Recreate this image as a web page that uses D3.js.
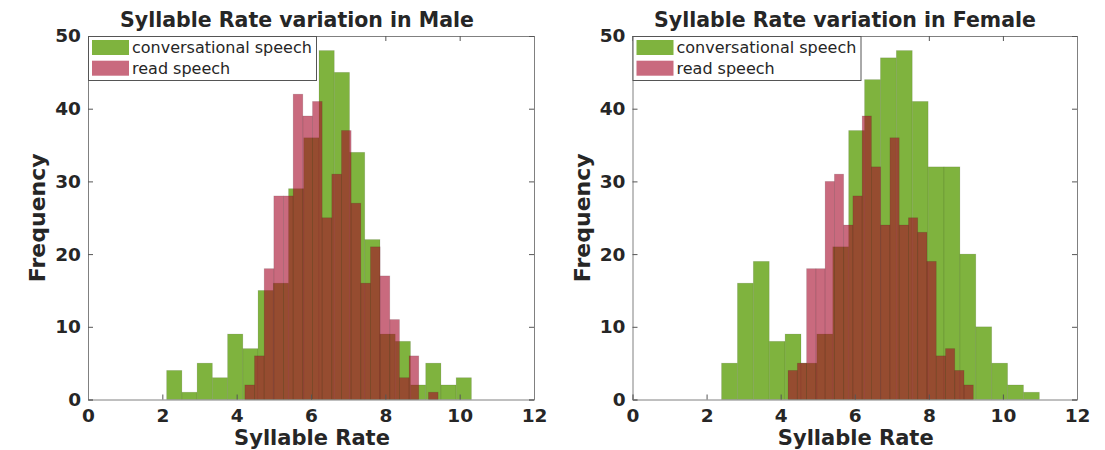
<!DOCTYPE html>
<html>
<head>
<meta charset="utf-8">
<script src="https://cdn.jsdelivr.net/npm/d3@7"></script>
<style>
  body { margin: 0; background: #fff; }
  text { font-family: "DejaVu Sans", sans-serif; fill: #262626; }
</style>
</head>
<body>
<svg id="chart" width="1105" height="450"></svg>
<script>
// Axis ticks and series labels
const xTicks = [0, 2, 4, 6, 8, 10, 12];
const yTicks = [0, 10, 20, 30, 40, 50];
const seriesNames = ["conversational speech", "read speech"];
const panelTitles = ["Syllable Rate variation in Male", "Syllable Rate variation in Female"];

// Histogram bins: first edge, bin width, counts per bin
const maleConvStart = 2.116, maleConvWidth = 0.41;
const maleConvCounts = [4, 1, 5, 3, 9, 7, 15, 16, 29, 36, 48, 45, 34, 22, 9, 8, 2, 5, 2, 3];
const maleReadStart = 4.22, maleReadWidth = 0.26;
const maleReadCounts = [2, 6, 18, 28, 28, 42, 39, 41, 25, 31, 37, 27, 16, 21, 17, 11, 3, 6, 0, 1];

const femaleConvStart = 2.404, femaleConvWidth = 0.429;
const femaleConvCounts = [5, 16, 19, 8, 9, 5, 9, 21, 37, 44, 47, 48, 41, 32, 32, 20, 10, 5, 2, 1];
const femaleReadStart = 4.2, femaleReadWidth = 0.25;
const femaleReadCounts = [4, 5, 18, 18, 30, 31, 24, 28, 39, 32, 24, 36, 24, 25, 23, 19, 6, 7, 4, 2];

const convColor = "#7fb33e";
const readColor = "rgb(165,7,40)";
const readAlpha = 0.6;
const axisColor = "#808080";

function toBins(start, width, counts) {
  return counts.map((c, i) => ({ x0: start + i * width, x1: start + (i + 1) * width, count: c }));
}

const panels = [
  { left: 88, right: 534, titleX: 297, title: panelTitles[0],
    conv: toBins(maleConvStart, maleConvWidth, maleConvCounts),
    read: toBins(maleReadStart, maleReadWidth, maleReadCounts) },
  { left: 632.5, right: 1077, titleX: 845, title: panelTitles[1],
    conv: toBins(femaleConvStart, femaleConvWidth, femaleConvCounts),
    read: toBins(femaleReadStart, femaleReadWidth, femaleReadCounts) }
];

const plotTop = 36, plotBottom = 399.5;
const svg = d3.select("#chart");

panels.forEach(p => {
  const x = d3.scaleLinear().domain([0, 12]).range([p.left, p.right]);
  const y = d3.scaleLinear().domain([0, 50]).range([plotBottom, plotTop]);
  const g = svg.append("g");

  // conversational speech bars
  g.append("g").selectAll("rect").data(p.conv).join("rect")
    .attr("x", d => x(d.x0)).attr("width", d => x(d.x1) - x(d.x0))
    .attr("y", d => y(d.count)).attr("height", d => y(0) - y(d.count))
    .attr("fill", convColor)
    .attr("stroke", "rgba(0,0,0,0.12)").attr("stroke-width", 0.8);

  // read speech bars, translucent over the first series
  g.append("g").selectAll("rect").data(p.read).join("rect")
    .attr("x", d => x(d.x0)).attr("width", d => x(d.x1) - x(d.x0))
    .attr("y", d => y(d.count)).attr("height", d => y(0) - y(d.count))
    .attr("fill", readColor).attr("fill-opacity", readAlpha)
    .attr("stroke", "rgba(0,0,0,0.12)").attr("stroke-width", 0.8);

  // axes with inward ticks on all four sides
  const tickLen = 5;
  const axes = [
    { ax: d3.axisBottom(x).tickValues(xTicks).tickSize(-tickLen).tickPadding(9), pos: `translate(0,${plotBottom})`, labels: true },
    { ax: d3.axisTop(x).tickValues(xTicks).tickSize(-tickLen), pos: `translate(0,${plotTop})`, labels: false },
    { ax: d3.axisLeft(y).tickValues(yTicks).tickSize(-tickLen).tickPadding(7), pos: `translate(${p.left},0)`, labels: true },
    { ax: d3.axisRight(y).tickValues(yTicks).tickSize(-tickLen), pos: `translate(${p.right},0)`, labels: false }
  ];
  axes.forEach(a => {
    const ag = g.append("g").attr("transform", a.pos).call(a.ax);
    ag.select(".domain").attr("stroke", axisColor).attr("stroke-width", 1);
    ag.selectAll(".tick line").attr("stroke", "#555").attr("stroke-width", 1);
    ag.selectAll(".tick text")
      .style("font-family", "DejaVu Sans, sans-serif")
      .style("font-weight", "bold").style("font-size", "18.5px")
      .attr("fill", "#262626");
    if (!a.labels) ag.selectAll(".tick text").remove();
  });

  // title and axis labels
  g.append("text").attr("x", p.titleX).attr("y", 27)
    .attr("text-anchor", "middle").style("font-weight", "bold").style("font-size", "20.5px")
    .text(p.title);
  g.append("text").attr("x", (p.left + p.right) / 2 + 1).attr("y", 445)
    .attr("text-anchor", "middle").style("font-weight", "bold").style("font-size", "21px")
    .text("Syllable Rate");
  g.append("text")
    .attr("transform", `translate(${p.left - 43},${(plotTop + plotBottom) / 2}) rotate(-90)`)
    .attr("text-anchor", "middle").style("font-weight", "bold").style("font-size", "22px")
    .text("Frequency");

  // legend
  const lg = g.append("g").attr("transform", `translate(${p.left},${plotTop})`);
  lg.append("rect").attr("x", 0.5).attr("y", 0.5).attr("width", 228).attr("height", 44)
    .attr("fill", "#fff").attr("stroke", "#555").attr("stroke-width", 1);
  const swatches = [
    { name: seriesNames[0], fill: convColor, op: 1 },
    { name: seriesNames[1], fill: readColor, op: readAlpha }
  ];
  swatches.forEach((s, i) => {
    lg.append("rect").attr("x", 4).attr("y", 4 + i * 20.7).attr("width", 37).attr("height", 15)
      .attr("fill", s.fill).attr("fill-opacity", s.op);
    lg.append("text").attr("x", 44).attr("y", 17 + i * 20.7)
      .style("font-size", "16px").text(s.name);
  });
});
</script>
</body>
</html>
